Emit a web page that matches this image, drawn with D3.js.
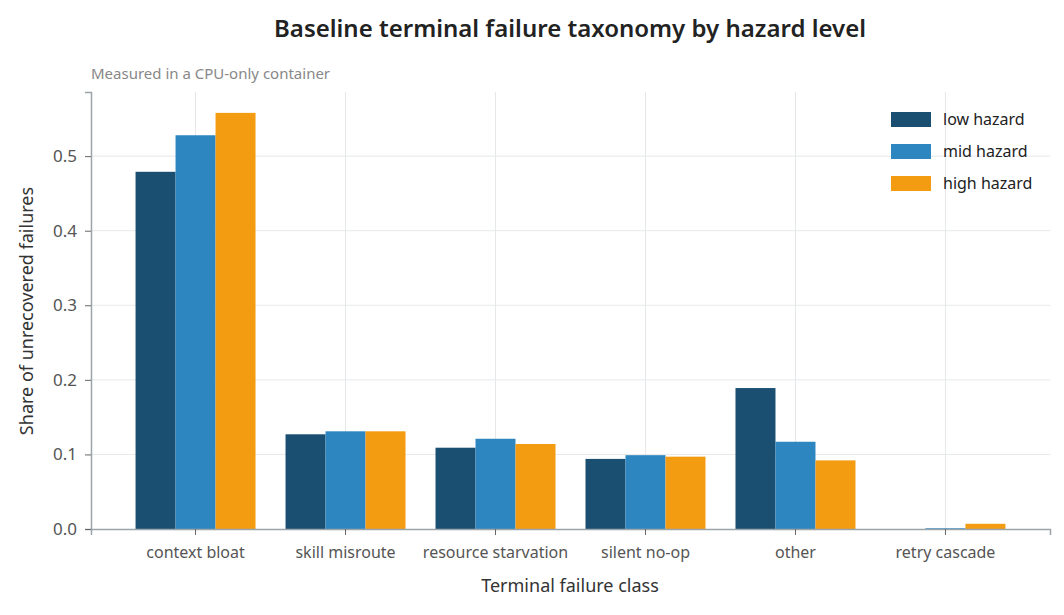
<!DOCTYPE html>
<html><head><meta charset="utf-8">
<script src="https://cdn.jsdelivr.net/npm/d3@7"></script>
<style>body{margin:0;background:#fff;font-family:"Noto Sans",sans-serif;}</style>
</head><body><svg id="chart" width="1064" height="615"></svg>
<script>
const categories = ['context bloat','skill misroute','resource starvation','silent no-op','other','retry cascade'];
const seriesNames = ['low hazard','mid hazard','high hazard'];
const lowHazard = [0.479, 0.127, 0.109, 0.094, 0.189, 0.0];
const midHazard = [0.528, 0.131, 0.121, 0.099, 0.117, 0.001];
const highHazard = [0.558, 0.131, 0.114, 0.097, 0.092, 0.007];
const yTicks = [0, 0.1, 0.2, 0.3, 0.4, 0.5];
const colors = ['#1b4f72','#2e86c1','#f39c12'];

const svg = d3.select('#chart');
const m = {left:91, right:1050, top:92, bottom:529};
const x = d3.scaleBand().domain(categories).range([m.left, m.right]).paddingInner(0.2).paddingOuter(0.297);
const xs = d3.scaleBand().domain(seriesNames).range([0, x.bandwidth()]);
const y = d3.scaleLinear().domain([0, 0.586]).range([m.bottom, m.top]);

// grid
svg.append('g').selectAll('line').data(yTicks.slice(1)).join('line')
  .attr('x1', m.left).attr('x2', m.right).attr('y1', d => y(d)).attr('y2', d => y(d))
  .attr('stroke', '#e5e8ea');
svg.append('g').selectAll('line').data(categories).join('line')
  .attr('x1', d => x(d) + x.bandwidth()/2).attr('x2', d => x(d) + x.bandwidth()/2)
  .attr('y1', m.top).attr('y2', m.bottom).attr('stroke', '#e5e8ea');

const series = [lowHazard, midHazard, highHazard];
series.forEach((vals, i) => {
  svg.append('g').selectAll('rect').data(vals).join('rect')
    .attr('x', (d, j) => x(categories[j]) + xs(seriesNames[i]))
    .attr('width', xs.bandwidth())
    .attr('y', d => y(d)).attr('height', d => y(0) - y(d))
    .attr('fill', colors[i]);
});

const xAxis = svg.append('g').attr('transform', `translate(0,${m.bottom})`)
  .call(d3.axisBottom(x).tickSizeOuter(0).tickSize(6).tickPadding(12));
const yAxis = svg.append('g').attr('transform', `translate(${m.left},0)`)
  .call(d3.axisLeft(y).tickValues(yTicks).tickFormat(d3.format('.1f')).tickSizeOuter(0).tickSize(6).tickPadding(8));
[xAxis, yAxis].forEach(a => {
  a.select('.domain').attr('stroke', '#9aa5ab').attr('stroke-width', 1.5);
  a.selectAll('.tick line').attr('stroke', '#666');
  a.selectAll('.tick text').attr('fill', '#555').style('font-family', '"Noto Sans",sans-serif');
});
xAxis.selectAll('.tick text').style('font-size', '16px');
yAxis.selectAll('.tick text').style('font-size', '17px');

svg.append('text').attr('x', 570).attr('y', 37).attr('text-anchor', 'middle')
  .attr('font-size', 24).attr('font-weight', 600).attr('fill', '#222').text('Baseline terminal failure taxonomy by hazard level');
svg.append('text').attr('x', 91).attr('y', 79).attr('font-size', 15).attr('fill', '#888').text('Measured in a CPU-only container');
svg.append('text').attr('x', 570).attr('y', 592).attr('text-anchor', 'middle').attr('font-size', 18).attr('fill', '#333').text('Terminal failure class');
svg.append('text').attr('transform', 'translate(33,311) rotate(-90)').attr('text-anchor', 'middle')
  .attr('font-size', 18).attr('fill', '#333').text('Share of unrecovered failures');

const legend = svg.append('g').attr('transform', 'translate(891,112)');
seriesNames.forEach((s, i) => {
  const g = legend.append('g').attr('transform', `translate(0,${i * 32})`);
  g.append('rect').attr('width', 40).attr('height', 15).attr('fill', colors[i]);
  g.append('text').attr('x', 52).attr('y', 13).attr('font-size', 16).attr('fill', '#222').text(s);
});
</script></body></html>
